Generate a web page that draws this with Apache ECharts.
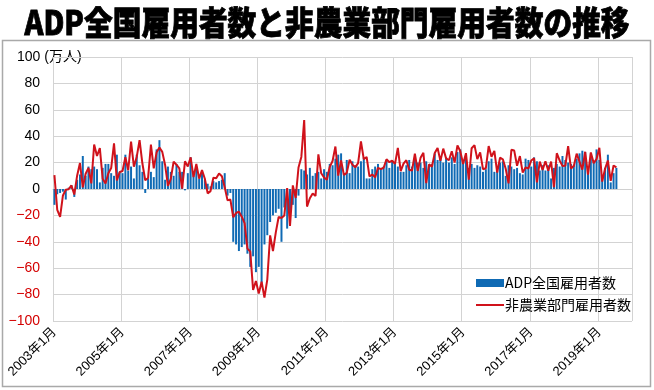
<!DOCTYPE html>
<html>
<head>
<meta charset="utf-8">
<script src="https://cdn.jsdelivr.net/npm/echarts@6/dist/echarts.min.js"></script>
<style>
 html, body { margin: 0; padding: 0; background: #fff; }
 #main { width: 654px; height: 390px; }
</style>
</head>
<body>
<div id="main"></div>
<script>
 // 月次カテゴリ (2003年1月〜2019年12月)
 var months = [];
 for (var y = 2003; y <= 2019; y++) {
	 for (var m = 1; m <= 12; m++) {
		 months.push(y + '年' + m + '月');
	 }
 }

 // ADP全国雇用者数 (前月比, 万人) 2003年1月〜2019年7月
 var adp = [
	 -12, -4, -3, -2, -8, 1, 3, -6, 7, 11, 25, 10,        // 2003
	 17, 15, 17, 15, 5, 16, 19, 19, 12, 10, 26, 13,       // 2004
	 12, 26, 14, 17, 8, 26, 18, 13, -3, 8, 13, 9,         // 2005
	 30, 37, 21, 7, 17, 13, 10, 19, 13, 13, -1, 12,       // 2006
	 24, 13, 17, 8, 13, 7, 4, 2, 6, 5, 6, 7,              // 2007
	 12, -5, -3, -40, -42, -47, -44, -42, -49, -59, -51, -63, // 2008
	 -59, -71, -42, -35, -25, -20, -18, -15, -40, -14, -30, -20, // 2009
	 -12, -22, -5, 15, 14, 11, 16, 10, 12, 13, 8, 15,     // 2010
	 13, 19, 18, 23, 26, 27, 12, 22, 12, 21, 18, 17,      // 2011
	 21, 24, 8, 8, 15, 17, 19, 16, 17, 22, 16, 21,        // 2012
	 19, 17, 13, 13, 18, 22, 17, 22, 20, 20, 16, 21,      // 2013
	 18, 19, 27, 22, 25, 20, 24, 20, 24, 19, 28, 30,      // 2014
	 22, 27, 16, 19, 16, 18, 17, 13, 15, 21, 23, 13,      // 2015
	 15, 20, 21, 10, 18, 17, 15, 16, 12, 11, 23, 22,      // 2016
	 17, 24, 21, 14, 18, 14, 18, 8, 16, 19, 17, 25,       // 2017
	 22, 20, 19, 18, 23, 27, 29, 28, 16, 27, 21, 30,      // 2018
	 22, 9, 16, 26, 5, 12, 16                             // 2019
 ];

 // 非農業部門雇用者数 (前月比, 万人)
 var nfp = [
	 10.5, -15.9, -21.2, -4.9, -0.6, -0.2, 2.7, -4.2, 10.1, 19.7, 1.2, 11.6,
	 16.0, 4.3, 33.7, 25.0, 31.0, 7.8, 4.2, 11.9, 15.9, 34.6, 6.5, 12.9,
	 13.6, 24.0, 14.2, 35.9, 16.9, 24.3, 37.0, 19.3, 6.6, 8.4, 33.6, 15.6,
	 27.8, 31.5, 28.1, 18.2, 2.3, 7.7, 20.7, 18.4, 15.7, 0.2, 21.0, 17.1,
	 24.0, 9.0, 18.9, 7.9, 14.3, 7.8, -3.3, -1.6, 8.5, 8.2, 11.8, 9.7,
	 1.3, -8.6, -8.0, -21.4, -18.2, -17.2, -21.0, -25.9, -45.2, -47.4, -76.5, -69.7,
	 -79.1, -70.3, -82.3, -68.6, -35.1, -47.0, -32.9, -21.2, -21.9, -20.0, 0.7, -27.9,
	 2.7, -6.8, 16.3, 24.3, 52.2, -13.3, -7.0, -3.4, -5.2, 26.2, 11.9, 8.7,
	 7.0, 16.8, 21.2, 32.2, 10.2, 21.7, 10.6, 12.2, 22.1, 18.3, 16.4, 19.6,
	 36.0, 22.6, 24.3, 9.6, 11.0, 8.8, 16.0, 15.0, 16.1, 22.5, 20.3, 21.4,
	 19.0, 31.1, 13.5, 19.2, 21.8, 14.6, 14.0, 26.8, 13.7, 23.6, 27.4, 4.5,
	 18.7, 16.8, 27.2, 31.0, 21.3, 30.6, 23.2, 21.8, 28.6, 20.0, 33.1, 28.6,
	 19.0, 27.1, 7.0, 30.9, 33.2, 22.6, 27.7, 15.0, 15.7, 32.5, 24.4, 28.9,
	 12.5, 23.7, 22.5, 15.3, 4.3, 29.7, 29.1, 17.6, 24.9, 12.4, 16.4, 15.5,
	 21.6, 23.2, 5.0, 20.7, 14.5, 21.0, 13.8, 20.8, 1.4, 27.1, 21.6, 17.5,
	 17.6, 32.4, 15.5, 17.5, 26.8, 20.8, 14.7, 28.2, 10.8, 27.7, 19.6, 22.7,
	 31.2, 5.6, 15.3, 21.6, 6.2, 17.8, 16.4
 ];

 var chartTitle = 'ADP全国雇用者数と非農業部門雇用者数の推移';
 var unitLabel = '100 (万人)';

 var myChart = echarts.init(document.getElementById('main'));

 var option = {
	 animation: false,
	 backgroundColor: '#fff',
	 textStyle: { fontFamily: '"Liberation Sans", "Noto Sans CJK JP", sans-serif' },
	 graphic: [
		 {
			 type: 'rect',
			 z: -1,
			 shape: { x: 2.5, y: 40.5, width: 648, height: 346 },
			 style: { fill: 'none', stroke: '#a9a9a9', lineWidth: 1.5 }
		 },
		 {
			 type: 'text',
			 x: 327, y: 22,
			 scaleX: 0.87,
			 style: {
				 text: chartTitle,
				 font: '900 33px "Noto Sans CJK JP"',
				 fill: '#000',
				 stroke: '#000',
				 lineWidth: 0.8,
				 textAlign: 'center',
				 textVerticalAlign: 'middle'
			 }
		 },
		 {
			 type: 'text',
			 x: 17, y: 57,
			 style: {
				 text: unitLabel,
				 font: '14px "Liberation Sans", "Noto Sans CJK JP"',
				 fill: '#000',
				 textAlign: 'left',
				 textVerticalAlign: 'middle'
			 }
		 }
	 ],
	 legend: {
		 orient: 'vertical',
		 left: 476,
		 top: 276,
		 padding: 0,
		 itemWidth: 28,
		 itemHeight: 8,
		 itemGap: 8,
		 symbolKeepAspect: true,
		 textStyle: { fontSize: 14, color: '#000', fontFamily: '"Noto Sans CJK JP"', padding: [0, 0, 0, -4] },
		 data: [
			 { name: 'ADP全国雇用者数', icon: 'rect' },
			 { name: '非農業部門雇用者数', icon: 'path://M0,0h28v2h-28z' }
		 ]
	 },
	 grid: { left: 53, right: 22, top: 57, bottom: 69 },
	 xAxis: {
		 type: 'category',
		 data: months,
		 boundaryGap: true,
		 axisLine: { lineStyle: { color: '#d0d0d0' } },
		 axisTick: { show: true, interval: 23, length: 3, lineStyle: { color: '#d0d0d0' } },
		 axisLabel: { interval: 23, rotate: 45, fontSize: 13, color: '#000', margin: 9 },
		 splitLine: { show: true, interval: 23, lineStyle: { color: '#d3d3d3' } }
	 },
	 yAxis: {
		 type: 'value',
		 min: -100,
		 max: 100,
		 interval: 20,
		 axisLine: { show: false },
		 axisTick: { show: false },
		 splitLine: { lineStyle: { color: '#d3d3d3' } },
		 axisLabel: {
			 fontSize: 14,
			 color: '#000',
			 margin: 13,
			 formatter: function (v) {
				 if (v === 100) return '';
				 if (v < 0) return '{neg|\u2212' + (-v) + '}';
				 return String(v);
			 },
			 rich: { neg: { color: '#d40000', fontSize: 14 } }
		 }
	 },
	 series: [
		 {
			 name: 'ADP全国雇用者数',
			 type: 'bar',
			 data: adp,
			 barWidth: '70%',
			 itemStyle: { color: '#0f6ab4' }
		 },
		 {
			 name: '非農業部門雇用者数',
			 type: 'line',
			 data: nfp,
			 symbol: 'none',
			 z: 3,
			 itemStyle: { color: '#d0121b' },
			 lineStyle: { color: '#d0121b', width: 2 }
		 }
	 ]
 };

 myChart.setOption(option);
</script>
</body>
</html>
